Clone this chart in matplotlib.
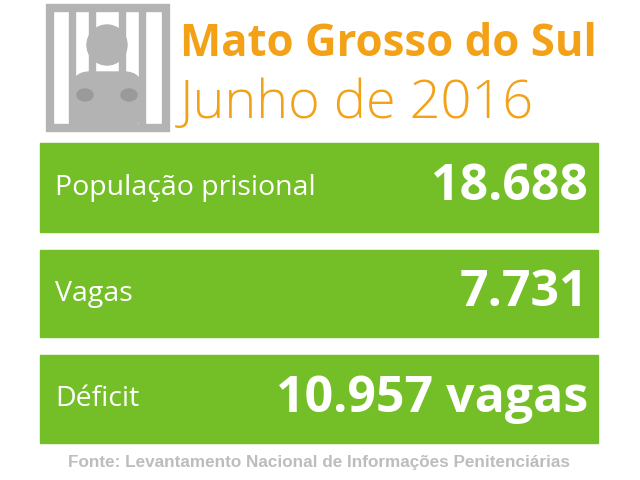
import matplotlib
matplotlib.use("Agg")
import matplotlib.pyplot as plt
from matplotlib.patches import Rectangle, Circle, FancyBboxPatch, Ellipse

title = "Mato Grosso do Sul"
subtitle = "Junho de 2016"
labels = ["População prisional", "Vagas", "Déficit"]
values = ["18.688", "7.731", "10.957 vagas"]
source = "Fonte: Levantamento Nacional de Informações Penitenciárias"

GREEN = "#74bf28"
ORANGE = "#f3a117"
GRAY = "#b3b3b3"

fig = plt.figure(figsize=(6.4, 4.8), dpi=100)
ax = fig.add_axes([0, 0, 1, 1])
ax.set_xlim(0, 640); ax.set_ylim(480, 0); ax.axis("off")

# icon: person behind bars
ax.add_patch(Circle((107, 45), 20, color=GRAY))
ax.add_patch(FancyBboxPatch((72, 72), 70, 56, boxstyle="round,pad=0,rounding_size=18", color=GRAY))
for x in [72, 92, 122, 142]:
    ax.add_patch(Rectangle((x - 3, 8), 6, 120, color=GRAY))
ax.add_patch(Rectangle((50, 8), 116, 120, fill=False, ec=GRAY, lw=6))
for x in [85, 129]:
    ax.add_patch(Ellipse((x, 95), 16, 12, color="#9a9a9a"))

ax.text(180, 45, title, color=ORANGE, fontsize=31.5, fontweight="bold",
        family="Open Sans", va="center", ha="left")
ax.text(180, 104, subtitle, color=ORANGE, fontsize=39, fontweight="light",
        family="Open Sans", va="center", ha="left")

boxes = [(143, 89), (250, 87), (355, 88)]
for (y, h), lab, val in zip(boxes, labels, values):
    ax.add_patch(Rectangle((40, y), 558, h, color=GREEN))
    ax.text(55, y + h / 2, lab, color="white", fontsize=20.5, family="Open Sans",
            va="center", ha="left")
    ax.text(588, y + h / 2, val, color="white", fontsize=36, fontweight="bold",
            family="Open Sans", va="center", ha="right")

ax.text(319, 463, source, color="#bdbdbd", fontsize=12.3, fontweight="bold",
        family="Liberation Sans", va="center", ha="center")

fig.savefig("out.png", dpi=100)
